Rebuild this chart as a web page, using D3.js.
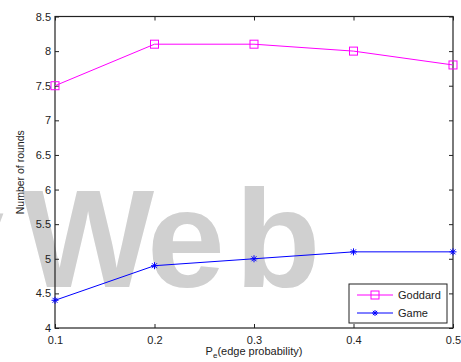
<!DOCTYPE html>
<html>
<head>
<meta charset="utf-8">
<script src="https://cdn.jsdelivr.net/npm/d3@7"></script>
<style>
  html, body { margin: 0; padding: 0; background: #fff; }
  svg { display: block; font-family: "Liberation Sans", Arial, sans-serif; }
</style>
</head>
<body>
<div id="chart"></div>
<script>
// Edge probability values on the x axis
const edgeProb = [0.1, 0.2, 0.3, 0.4, 0.5];
// Average number of rounds for each method
const goddard = [7.5, 8.1, 8.1, 8.0, 7.8];
const game = [4.4, 4.9, 5.0, 5.1, 5.1];
const xTicks = [0.1, 0.2, 0.3, 0.4, 0.5];
const yTicks = [4, 4.5, 5, 5.5, 6, 6.5, 7, 7.5, 8, 8.5];
const seriesNames = ["Goddard", "Game"];

const W = 461, H = 362;
const margin = { left: 55, right: 8, top: 16.5, bottom: 34 };
const pw = W - margin.left - margin.right;
const ph = H - margin.top - margin.bottom;

const svg = d3.select("#chart").append("svg")
  .attr("width", W).attr("height", H);

// Large grey "Web" stamp behind the plot, letters placed one by one
const stamp = svg.append("g")
  .attr("font-size", 140).attr("font-weight", "bold").attr("fill", "#d0d0d0");
stamp.append("text").attr("x", 4).attr("y", 287).attr("text-anchor", "end").text("y");
stamp.append("text").attr("x", 22).attr("y", 287).text("W");
stamp.append("text").attr("x", 147).attr("y", 287).text("e");
stamp.append("text").attr("x", 235).attr("y", 287).text("b");

const x = d3.scaleLinear().domain([0.1, 0.5]).range([0, pw]);
const y = d3.scaleLinear().domain([4, 8.5]).range([ph, 0]);

const g = svg.append("g").attr("transform", `translate(${margin.left},${margin.top})`);

const tickLen = 4;
const axisColor = "#222";

function styleAxis(sel, showLabels) {
  sel.select(".domain").remove();
  sel.selectAll(".tick line").attr("stroke", axisColor).attr("stroke-width", 1);
  sel.selectAll(".tick text")
    .attr("fill", "#222").attr("font-size", 11)
    .attr("font-family", "Liberation Sans, Arial, sans-serif");
  if (!showLabels) sel.selectAll(".tick text").remove();
}

// Bottom axis (ticks point inward)
g.append("g").attr("transform", `translate(0,${ph})`)
  .call(d3.axisBottom(x).tickValues(xTicks).tickFormat(d3.format("")).tickSizeInner(-tickLen).tickPadding(8))
  .call(s => styleAxis(s, true));
// Top axis
g.append("g")
  .call(d3.axisTop(x).tickValues(xTicks).tickSizeInner(-tickLen))
  .call(s => styleAxis(s, false));
// Left axis
g.append("g")
  .call(d3.axisLeft(y).tickValues(yTicks).tickFormat(d3.format("")).tickSizeInner(-tickLen).tickPadding(4))
  .call(s => styleAxis(s, true));
// Right axis
g.append("g").attr("transform", `translate(${pw},0)`)
  .call(d3.axisRight(y).tickValues(yTicks).tickSizeInner(-tickLen))
  .call(s => styleAxis(s, false));

// Plot frame
g.append("rect")
  .attr("x", 0).attr("y", 0).attr("width", pw).attr("height", ph)
  .attr("fill", "none").attr("stroke", axisColor).attr("stroke-width", 1.2);

const line = d3.line().x((d, i) => x(edgeProb[i])).y(d => y(d));

function asterisk(sel, cx, cy, r, color) {
  const a = Math.PI / 4;
  const pts = [[0, -r, 0, r], [-r, 0, r, 0],
    [-r * Math.cos(a), -r * Math.sin(a), r * Math.cos(a), r * Math.sin(a)],
    [-r * Math.cos(a), r * Math.sin(a), r * Math.cos(a), -r * Math.sin(a)]];
  pts.forEach(p => sel.append("line")
    .attr("x1", cx + p[0]).attr("y1", cy + p[1])
    .attr("x2", cx + p[2]).attr("y2", cy + p[3])
    .attr("stroke", color).attr("stroke-width", 1));
}

function square(sel, cx, cy, s, color) {
  sel.append("rect")
    .attr("x", cx - s / 2).attr("y", cy - s / 2)
    .attr("width", s).attr("height", s)
    .attr("fill", "none").attr("stroke", color).attr("stroke-width", 1);
}

const magenta = "#ff00ff", blue = "#0000ff";

// Goddard series
g.append("path").datum(goddard).attr("d", line)
  .attr("fill", "none").attr("stroke", magenta).attr("stroke-width", 1);
goddard.forEach((v, i) => square(g, x(edgeProb[i]), y(v), 8, magenta));

// Game series
g.append("path").datum(game).attr("d", line)
  .attr("fill", "none").attr("stroke", blue).attr("stroke-width", 1);
game.forEach((v, i) => asterisk(g, x(edgeProb[i]), y(v), 3.5, blue));

// Legend
const lg = svg.append("g").attr("transform", "translate(349,284)");
lg.append("rect").attr("width", 98).attr("height", 39)
  .attr("fill", "#fff").attr("stroke", axisColor).attr("stroke-width", 1);
const rows = [{ name: seriesNames[0], color: magenta, mark: "square" },
              { name: seriesNames[1], color: blue, mark: "asterisk" }];
rows.forEach((r, i) => {
  const cy = 11 + i * 18;
  lg.append("line").attr("x1", 8).attr("x2", 44).attr("y1", cy).attr("y2", cy)
    .attr("stroke", r.color).attr("stroke-width", 1);
  if (r.mark === "square") square(lg, 26, cy, 8, r.color);
  else asterisk(lg, 26, cy, 3, r.color);
  lg.append("text").attr("x", 49).attr("y", cy + 4)
    .attr("font-size", 11).attr("fill", "#222").text(r.name);
});

// Axis titles
const xt = svg.append("text")
  .attr("x", margin.left + pw / 2).attr("y", 355)
  .attr("text-anchor", "middle").attr("font-size", 11).attr("fill", "#222");
xt.append("tspan").text("P");
xt.append("tspan").attr("font-size", 8).attr("dy", 3).text("e");
xt.append("tspan").attr("dy", -3).text("(edge probability)");

svg.append("text")
  .attr("transform", `translate(24,${margin.top + ph / 2}) rotate(-90)`)
  .attr("text-anchor", "middle").attr("font-size", 10.5).attr("fill", "#222")
  .text("Number of rounds");
</script>
</body>
</html>
